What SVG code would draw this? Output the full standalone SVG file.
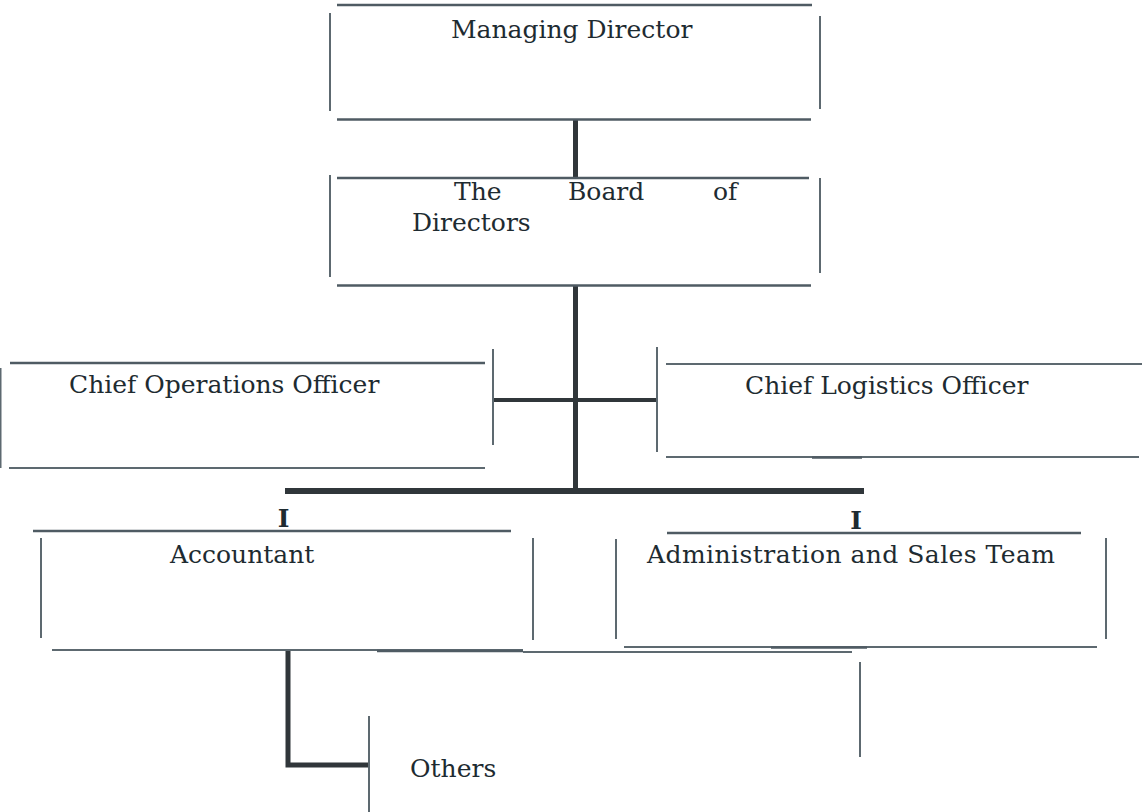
<svg xmlns="http://www.w3.org/2000/svg" width="1142" height="812" viewBox="0 0 1142 812">
<style>
.edge{stroke:#4f5b63;stroke-width:2.5;fill:none}
.edgeL{stroke:#5d6970;stroke-width:2;fill:none}
.conn{stroke:#30363a;fill:none}
.t{font-family:"DejaVu Serif","Liberation Serif",serif;font-size:25px;fill:#1e2b31}
.tick{font-family:"DejaVu Serif","Liberation Serif",serif;font-size:25px;font-weight:bold;fill:#1e2b31}
</style>
<rect width="1142" height="812" fill="#ffffff"/>
<g id="connectors">
<line class="conn" x1="575.5" y1="119" x2="575.5" y2="178" stroke-width="5"/>
<line class="conn" x1="575.5" y1="285" x2="575.5" y2="494" stroke-width="5"/>
<line class="conn" x1="493" y1="400" x2="657" y2="400" stroke-width="4"/>
<line class="conn" x1="285" y1="491" x2="864" y2="491" stroke-width="6"/>
<text class="tick" x="283.5" y="527" text-anchor="middle">I</text>
<text class="tick" x="856" y="529" text-anchor="middle">I</text>
<polyline class="conn" points="288,650 288,765 369,765" stroke-width="5"/>
</g>
<g id="managing-director">
<line class="edge" x1="337" y1="5" x2="812" y2="5"/>
<line class="edgeL" x1="330" y1="13" x2="330" y2="111"/>
<line class="edgeL" x1="820" y1="16" x2="820" y2="109"/>
<line class="edge" x1="337" y1="119.5" x2="811" y2="119.5"/>
<text class="t" x="451" y="38">Managing Director</text>
</g>
<g id="board-of-directors">
<line class="edge" x1="337" y1="178" x2="809" y2="178"/>
<line class="edgeL" x1="330" y1="175" x2="330" y2="277"/>
<line class="edgeL" x1="820" y1="178" x2="820" y2="273"/>
<line class="edge" x1="337" y1="285.5" x2="811" y2="285.5"/>
<text class="t" x="454" y="200">The</text>
<text class="t" x="568" y="200">Board</text>
<text class="t" x="713" y="200">of</text>
<text class="t" x="412" y="231">Directors</text>
</g>
<g id="chief-operations-officer">
<line class="edge" x1="10" y1="363" x2="485" y2="363"/>
<line class="edgeL" x1="0.5" y1="368" x2="0.5" y2="468"/>
<line class="edgeL" x1="493" y1="349" x2="493" y2="445"/>
<line class="edgeL" x1="9" y1="468" x2="485" y2="468"/>
<text class="t" x="69" y="393">Chief Operations Officer</text>
</g>
<g id="chief-logistics-officer">
<line class="edgeL" x1="666" y1="364" x2="1142" y2="364"/>
<line class="edgeL" x1="657" y1="347" x2="657" y2="452"/>
<line class="edgeL" x1="666" y1="457" x2="1139" y2="457"/>
<line class="edge" x1="812" y1="457.5" x2="862" y2="457.5" stroke-width="3"/>
<text class="t" x="745" y="394">Chief Logistics Officer</text>
</g>
<g id="accountant">
<line class="edge" x1="33" y1="531" x2="511" y2="531" stroke-width="3.5"/>
<line class="edgeL" x1="41" y1="538" x2="41" y2="638"/>
<line class="edgeL" x1="533" y1="538" x2="533" y2="640"/>
<line class="edgeL" x1="52" y1="650" x2="523" y2="650"/>
<line class="edge" x1="377" y1="651" x2="523" y2="651"/>
<text class="t" x="170" y="563">Accountant</text>
</g>
<g id="administration-and-sales-team">
<line class="edge" x1="667" y1="533" x2="1081" y2="533" stroke-width="3.5"/>
<line class="edgeL" x1="616" y1="539" x2="616" y2="639"/>
<line class="edgeL" x1="1106" y1="538" x2="1106" y2="639"/>
<line class="edgeL" x1="624" y1="647" x2="1097" y2="647"/>
<line class="edge" x1="771" y1="647.5" x2="867" y2="647.5" stroke-width="3"/>
<line class="edgeL" x1="523" y1="652" x2="852" y2="652" stroke="#8a9499"/>
<text class="t" x="647" y="563" textLength="408" lengthAdjust="spacing">Administration and Sales Team</text>
</g>
<g id="others">
<line class="edgeL" x1="369" y1="716" x2="369" y2="812"/>
<line class="edgeL" x1="860" y1="662" x2="860" y2="757"/>
<text class="t" x="410" y="777">Others</text>
</g>
</svg>
